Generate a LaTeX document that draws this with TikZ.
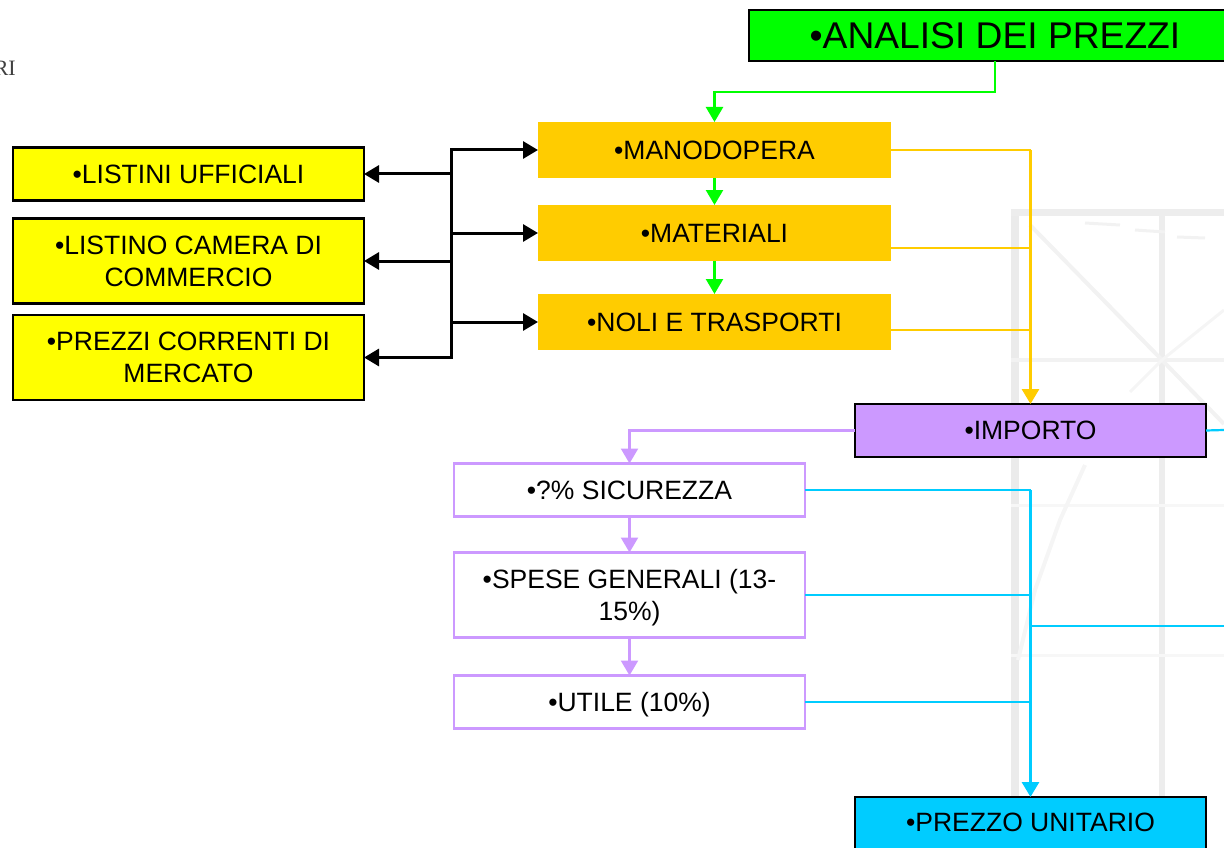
\documentclass[tikz,border=0pt]{standalone}
\usepackage{fontspec}
\setmainfont{Liberation Sans}
\newfontfamily\serifri{Liberation Serif}
\usetikzlibrary{arrows.meta,calc}
\definecolor{cgreen}{HTML}{00FF00}
\definecolor{corange}{HTML}{FFCC00}
\definecolor{cyellow}{HTML}{FFFF00}
\definecolor{cpurple}{HTML}{CC99FF}
\definecolor{ccyan}{HTML}{00CCFF}
\tikzset{
 x=1pt,y=-1pt,
 boxnode/.style={draw=black,line width=2.8pt,inner sep=0pt,outer sep=0pt,align=flush center,text width=351pt,font=\fontsize{26.5}{32}\selectfont,anchor=center},
 softbox/.style={boxnode,draw=cpurple,line width=2.2pt,fill=white},
 flatbox/.style={boxnode,draw=none,fill=corange,text width=353pt,minimum height=56pt},
 tip/.style={-{Triangle[length=15pt,width=17pt]}},
 link/.style={line width=2.2pt,line join=miter},
 trunk/.style={line width=3pt,line join=miter},
 blk/.style={line width=3pt,tip,black},
 grn/.style={link,line width=2.4pt,cgreen,tip},
 org/.style={link,corange},
 pur/.style={link,line width=2.4pt,cpurple,tip},
 cya/.style={link,ccyan},
 faint/.style={line width=8pt,black!8},
 faintb/.style={line width=4pt,black!5},
}
\begin{document}
\begin{tikzpicture}
\useasboundingbox (0,0) rectangle (1224,848);
\clip (0,0) rectangle (1224,848);
% faint background plan
\draw[faint] (1015,210) -- (1015,848);
\draw[line width=6pt,black!7] (1162,212) -- (1162,800);
\draw[line width=7pt,black!7] (1011,212) -- (1224,212);
\draw[faintb] (1011,360) -- (1224,360);
\draw[line width=3pt,black!3] (1011,505) -- (1224,505);
\draw[line width=3pt,black!3] (1011,655) -- (1224,655);
\draw[faintb] (1030,225) -- (1162,360) -- (1224,424);
\draw[line width=3pt,black!4] (1224,310) -- (1162,360) -- (1130,392);
\draw[line width=4pt,black!4] (1085,465) -- (1060,520) -- (1035,590) -- (1018,660);
\draw[line width=3pt,black!5] (1085,223) -- (1120,225);
\draw[line width=3pt,black!5] (1135,230) -- (1165,232);
\draw[line width=3pt,black!5] (1177,237) -- (1205,238);
% nodes
\node[text=black!75,font=\fontsize{22}{26}\serifri,anchor=base east,inner sep=0pt] (ri) at (16,76) {RI};
\node[draw=black,line width=2.8pt,outer sep=0pt,fill=cgreen,minimum width=492pt,minimum height=51pt,inner sep=0pt,font=\fontsize{37.2}{42}\selectfont] (analisi) at (995,35.5) {•ANALISI DEI PREZZI};
\node[boxnode,fill=cyellow,minimum height=53pt] (listini) at (188.5,174) {•LISTINI UFFICIALI};
\node[boxnode,fill=cyellow,minimum height=85pt] (camera) at (188.5,261) {•LISTINO CAMERA DI\\COMMERCIO};
\node[boxnode,fill=cyellow,minimum height=85pt] (mercato) at (188.5,357.5) {•PREZZI CORRENTI DI\\MERCATO};
\node[flatbox] (mano) at (714.5,150) {•MANODOPERA};
\node[flatbox] (mat) at (714.5,233) {•MATERIALI};
\node[flatbox] (noli) at (714.5,322) {•NOLI E TRASPORTI};
\node[boxnode,fill=cpurple,minimum height=53pt] (importo) at (1030.5,430.5) {•IMPORTO};
\node[softbox,minimum height=53pt] (sic) at (629.5,490) {•?\% SICUREZZA};
\node[softbox,minimum height=85pt] (spese) at (629.5,595) {•SPESE GENERALI (13-\\15\%\smash{)}};
\node[softbox,minimum height=53pt,text depth=0pt] (utile) at (629.5,702) {•UTILE (10\%)};
\node[boxnode,fill=ccyan,minimum height=52pt,text depth=2pt] (prezzo) at (1030.5,823) {•PREZZO UNITARIO};
% free ends and off-centre attachment points
\coordinate (junA) at (451,174);
\coordinate (matout) at (891,248);
\coordinate (noliout) at (891,330);
\coordinate (impstub) at (1224,430);
\coordinate (retstub) at (1224,626);
% green
\draw[grn] (analisi.south) |- (714.5,92) -- (mano.north);
\draw[grn] (mano.south) -- (mat.north);
\draw[grn] (mat.south) -- (noli.north);
% orange
\draw[org] (mano.east) -- (mano.east -| importo.north);
\draw[org] (matout) -- (matout -| importo.north);
\draw[org] (noliout) -- (noliout -| importo.north);
\draw[trunk,corange,tip] (mano.east -| importo.north) -- (importo.north);
% black
\draw[blk] (junA) -- (listini.east);
\draw[blk] (mano.west -| junA) -- (mano.west);
\draw[blk] (mat.west -| junA) -- (mat.west);
\draw[blk] (noli.west -| junA) -- (noli.west);
\draw[blk] (camera.east -| junA) -- (camera.east);
\draw[blk] (mercato.east -| junA) -- (mercato.east);
\draw[trunk,black,line cap=rect] (mano.west -| junA) -- (mercato.east -| junA);
% purple
\draw[pur] (importo.west) -| (sic.north);
\draw[pur] (sic.south) -- (spese.north);
\draw[pur] (spese.south) -- (utile.north);
% cyan
\draw[cya] (sic.east) -- (sic.east -| prezzo.north);
\draw[cya] (spese.east) -- (spese.east -| prezzo.north);
\draw[cya] (utile.east) -- (utile.east -| prezzo.north);
\draw[cya] (importo.east) -- (impstub);
\draw[cya] (retstub) -- (retstub -| prezzo.north);
\draw[trunk,ccyan,tip] (sic.east -| prezzo.north) -- (prezzo.north);
\end{tikzpicture}
\end{document}
